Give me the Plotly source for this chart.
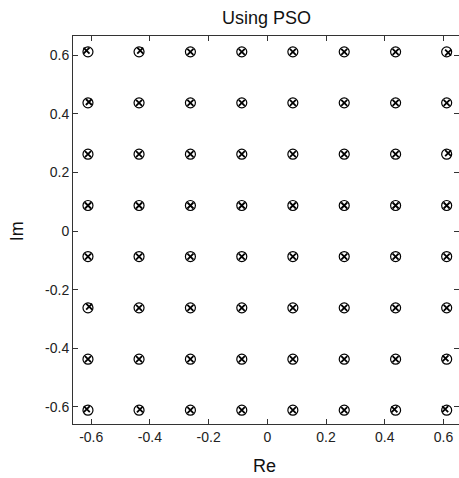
import plotly.graph_objects as go

# 64-QAM ideal levels (Re and Im)
levels = [-0.611, -0.437, -0.262, -0.087, 0.087, 0.262, 0.437, 0.611]

# offsets of the PSO estimates from the ideal points
# (row = Im level from top, col = Re level from left)
off_re = [
    [-0.005, 0.004, 0.0, 0.0, 0.0, 0.0, 0.0, 0.005],
    [0.003, 0.0, 0.0, 0.0, 0.0, 0.0, 0.0, 0.0],
    [0.0, 0.0, 0.0, 0.0, 0.0, 0.0, 0.0, 0.005],
    [0.0, 0.0, 0.0, 0.0, 0.0, 0.0, 0.0, 0.0],
    [0.0, 0.0, 0.0, 0.0, 0.0, 0.0, 0.0, 0.0],
    [0.004, 0.0, 0.0, 0.0, 0.0, 0.0, 0.0, 0.0],
    [0.0, 0.0, 0.0, 0.0, 0.0, 0.0, 0.0, -0.004],
    [-0.004, 0.003, 0.0, 0.0, 0.0, 0.0, -0.004, -0.005],
]
off_im = [
    [0.004, 0.004, 0.0, 0.0, 0.0, 0.0, 0.0, -0.003],
    [0.003, 0.0, 0.0, 0.0, 0.0, 0.0, 0.0, 0.0],
    [0.0, 0.0, 0.0, 0.0, 0.0, 0.0, 0.0, 0.004],
    [0.0, 0.0, 0.0, 0.0, 0.0, 0.0, 0.0, 0.0],
    [0.0, 0.0, 0.0, 0.0, 0.0, 0.0, 0.0, 0.0],
    [0.004, 0.0, 0.0, 0.0, 0.0, 0.0, 0.0, 0.0],
    [0.0, 0.0, 0.0, 0.0, 0.0, 0.0, 0.0, 0.003],
    [0.004, 0.003, 0.0, 0.0, 0.0, 0.0, 0.003, 0.004],
]

tick_vals = [-0.6, -0.4, -0.2, 0, 0.2, 0.4, 0.6]
tick_text = ["-0.6", "-0.4", "-0.2", "0", "0.2", "0.4", "0.6"]

ideal_re, ideal_im, est_re, est_im = [], [], [], []
for r, im in enumerate(reversed(levels)):
    for c, re in enumerate(levels):
        ideal_re.append(re)
        ideal_im.append(im)
        est_re.append(re + off_re[r][c])
        est_im.append(im + off_im[r][c])

fig = go.Figure()
fig.add_trace(go.Scatter(
    x=ideal_re, y=ideal_im, mode="markers", cliponaxis=False,
    marker=dict(symbol="circle-open", size=10, color="black", line=dict(width=1.2))
))
fig.add_trace(go.Scatter(
    x=est_re, y=est_im, mode="markers", cliponaxis=False,
    marker=dict(symbol="x-thin-open", size=6, color="black", line=dict(width=1.8))
))
# carries the right-hand tick marks (the axis line itself is just off the picture)
fig.add_trace(go.Scatter(x=[None], y=[None], yaxis="y2", showlegend=False))

font_family = "Liberation Sans, Arial"
axis_font = dict(family=font_family, size=14, color="#222")
label_font = dict(family=font_family, size=18, color="#111")

fig.update_layout(
    width=459, height=478,
    margin=dict(l=73, r=0, t=36, b=54),
    paper_bgcolor="white", plot_bgcolor="white",
    showlegend=False,
    xaxis=dict(
        range=[-0.662, 0.653], tickvals=tick_vals, ticktext=tick_text,
        ticks="inside", ticklen=5, tickcolor="#333", showgrid=False, zeroline=False,
        showline=True, linecolor="#333", linewidth=1, mirror="ticks",
        tickfont=axis_font, automargin=False,
    ),
    yaxis=dict(
        range=[-0.658, 0.665], tickvals=tick_vals, ticktext=tick_text,
        ticks="inside", ticklen=5, tickcolor="#333", showgrid=False, zeroline=False,
        showline=True, linecolor="#333", linewidth=1,
        tickfont=axis_font, automargin=False,
    ),
    yaxis2=dict(
        overlaying="y", side="right", range=[-0.658, 0.665], tickvals=tick_vals,
        showticklabels=False, ticks="inside", ticklen=5, tickcolor="#333",
        showgrid=False, zeroline=False, showline=False, automargin=False,
    ),
    annotations=[
        dict(text="Using PSO", x=0.501, y=1.046, xref="paper", yref="paper",
             xanchor="center", yanchor="middle", showarrow=False,
             font=dict(family=font_family, size=18, color="#111")),
        dict(text="Re", x=0.497, y=-0.108, xref="paper", yref="paper",
             xanchor="center", yanchor="middle", showarrow=False, font=label_font),
        dict(text="Im", x=-0.145, y=0.497, xref="paper", yref="paper", textangle=-90,
             xanchor="center", yanchor="middle", showarrow=False, font=label_font),
    ],
)

# drop the page's default body margin so the figure fills the window exactly
fig.write_html(
    "out.html",
    config={"displayModeBar": False},
    post_script="document.body.style.margin='0';document.body.style.overflow='hidden';",
)
